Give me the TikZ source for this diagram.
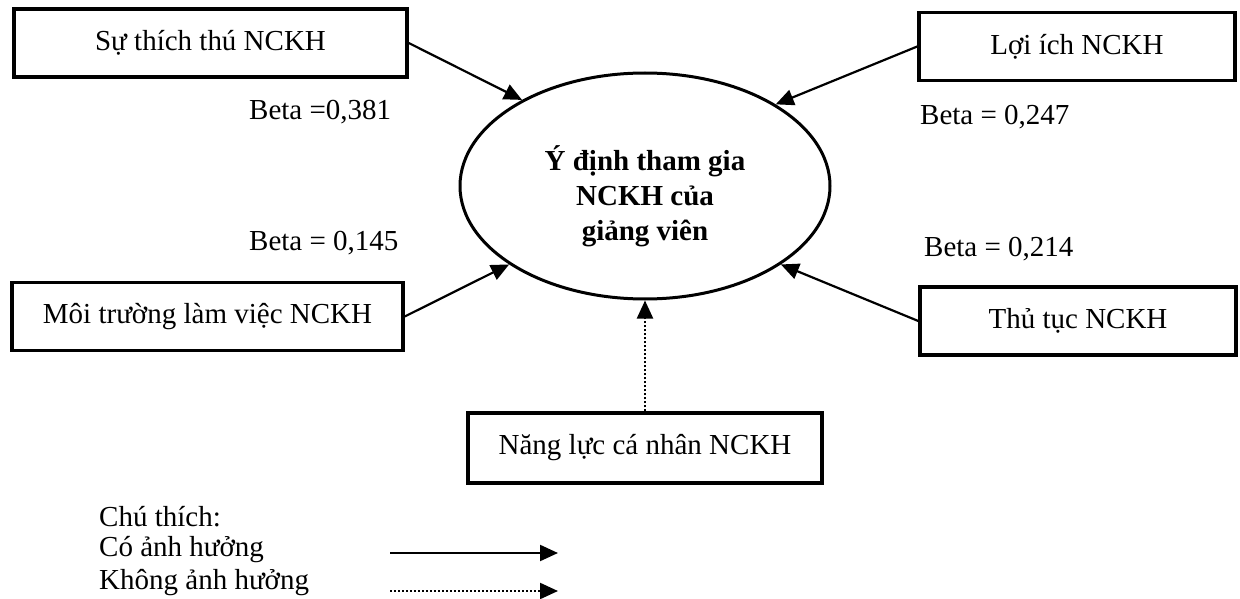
\documentclass[tikz,border=0pt]{standalone}
\usepackage{fontspec}
\setmainfont{Liberation Serif}
\usetikzlibrary{shapes.geometric,arrows.meta}

\tikzset{
  model/.style={
    x=1pt, y=-1pt,
    every node/.style={font=\fontsize{29}{34}\selectfont, inner sep=2pt},
    factor/.style={
        draw,
        line width=3.5pt,
        minimum height=68pt,
    },
    intent/.style={
        draw,
        shape=ellipse,
        line width=3pt,
        minimum width=370pt,
        minimum height=226pt,
    },
    intent text/.style={
        align=center,
        font=\fontsize{29}{35}\selectfont\bfseries,
    },
    effect/.style={line width=2.2pt, -{Triangle[length=18pt,width=16pt]}},
    noeffect/.style={effect, dash pattern=on 2pt off 2pt},
    beta/.style={anchor=west},
    legend/.style={anchor=west}
  }
}

\begin{document}
\begin{tikzpicture}[model]
            \useasboundingbox (0,0) rectangle (1240,599);

            \node[intent] (Y) at (645,186) {};
            \node[intent text] (Y_t) at (645,196) {Ý định tham gia\\NCKH của\\giảng viên};

            \node[factor, minimum width=393pt] (F_1) at (210.5,43)  {Sự thích thú NCKH};
            \node[factor, minimum width=316pt] (F_2) at (1077,46.5) {Lợi ích NCKH};
            \node[factor, minimum width=391pt] (F_3) at (207.5,316.5) {Môi trường làm việc NCKH};
            \node[factor, minimum width=316pt] (F_4) at (1078,321) {Thủ tục NCKH};
            \node[factor, minimum width=354pt, minimum height=70pt] (F_5) at (645,448) {Năng lực cá nhân NCKH};

            \node[beta] (B_1) at (247,112) {Beta =0,381};
            \node[beta] (B_2) at (918,117) {Beta = 0,247};
            \node[beta] (B_3) at (247,243) {Beta = 0,145};
            \node[beta] (B_4) at (922,249) {Beta = 0,214};

            \draw[effect] (F_1.east) -- (Y.145);
            \draw[effect] (F_2.west) -- (Y.32);
            \draw[effect] (F_3.east) -- (Y.210);
            \draw[effect] (F_4.west) -- (Y.330);
            \draw[noeffect] (F_5.north) -- (Y.south);

            % chu thich
            \node[legend] (L_0) at (97,517) {Chú thích:};
            \node[legend] (L_1) at (97,550) {Có ảnh hưởng};
            \node[legend] (L_2) at (97,583) {Không ảnh hưởng};
            \coordinate (S_1) at (390,553);
            \coordinate (E_1) at (558,553);
            \coordinate (S_2) at (390,591);
            \coordinate (E_2) at (558,591);
            \draw[effect] (S_1) -- (E_1);
            \draw[noeffect] (S_2) -- (E_2);
        \end{tikzpicture}
\end{document}
